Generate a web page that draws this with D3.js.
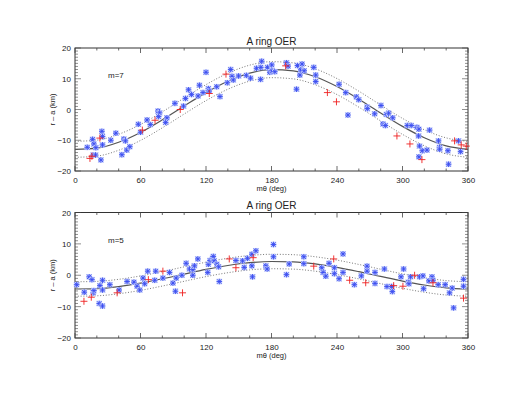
<!DOCTYPE html>
<html>
<head>
<meta charset="utf-8">
<script src="https://cdn.jsdelivr.net/npm/d3@7"></script>
<style>
  body { margin: 0; background: #fff; }
  text { font-family: "Liberation Sans", Arial, sans-serif; fill: #222; }
</style>
</head>
<body>
<script>
// x ticks (m theta, deg) and y ticks (r - a, km)
var xTicks = [0, 60, 120, 180, 240, 300, 360];
var yTicks = [-20, -10, 0, 10, 20];
var modelDeg = [0, 20, 40, 60, 80, 100, 120, 140, 160, 180, 200, 220, 240, 260, 280, 300, 320, 340, 360];

// m=7 panel
var topModel = [-12.95, -12.56, -10.65, -7.46, -3.36, 1.13, 5.49, 9.19, 11.82, 12.95, 12.56, 10.65, 7.46, 3.36, -1.13, -5.49, -9.19, -11.82, -12.95];
var topBand = 2.6;
var topBlue = [[11.2,-12.3],[16.1,-9.7],[17.3,-11.2],[16.7,-14.8],[18.8,-14.8],[19.1,-12.4],[23.7,-16.4],[24.6,-7.1],[25.2,-8.8],[25.2,-11.5],
  [32.8,-10],[37.4,-7.7],[42.9,-14.7],[44.7,-9.6],[46.2,-10.2],[47.4,-13.2],[50.2,-12.1],[58,-4.8],[60,-7.4],[66,-3.4],[69,-4.9],
  [76,-0.5],[77.5,-1.1],[76.6,-2.3],[84.2,-2.7],[83,-4.2],[91.5,2],[99.4,1.1],[101.2,3.6],[104,6.4],[106.7,4.9],[112.8,4.4],[114,7.9],
  [117.3,5.5],[120,12.1],[122.2,6.8],[123,6],[129.8,7.4],[132.8,4.2],[139.5,8.7],[142.6,13],[143.8,10.8],[145,9.6],[149.8,10.9],
  [157,11.1],[160.8,10.2],[166.3,13.4],[170,9.8],[170.2,13.7],[171,15.7],[176.3,13.7],[178.4,12.1],[180.2,14.5],[180.5,12.6],[183,12.3],
  [193.7,15.2],[195.2,14.1],[203.8,14.3],[208,14.8],[206,11.2],[206.8,12.9],[209.9,12.6],[202.9,6.6],[218.7,13.7],[220.5,11.2],[220.5,9.1],
  [241.9,8.2],[248,5.5],[250,-1.8],[257.7,4.1],[259.9,3.2],[267.5,0.8],[267.8,0.3],[274.5,-1.4],[280.3,1.3],[285.2,-1.6],[287.3,-1.2],
  [282.1,-4.7],[284.3,-5.2],[291,-2.7],[304.4,-5.2],[308,-5.2],[313.2,-5.8],[314.7,-8.6],[315,-6.4],[324.8,-6.7],[315.6,-11.9],
  [318.1,-13.4],[322.4,-13.2],[315,-15.4],[333,-10.2],[333.9,-12.3],[334,-12.9],[341.6,-13.4],[342.2,-17.8],[351.3,-10.2],[353.2,-13.7]];
var topRed = [[13.7,-15.9],[15.5,-15.2],[22.8,-9.3],[61.7,-6.7],[73.3,-3.5],[96.4,0],[123,5.2],[138.3,11.5],[193,14.2],
  [231.2,5.5],[239.5,2.5],[294.9,-8.6],[306.8,-11.2],[317.8,-16.3],[347.7,-10.2],[353.8,-11.5],[358.4,-11.9]];

// m=5 panel
var botModel = [-4.38, -4.25, -3.6, -2.52, -1.14, 0.38, 1.86, 3.11, 4.0, 4.38, 4.25, 3.6, 2.52, 1.14, -0.38, -1.86, -3.11, -4.0, -4.38];
var botBand = 2.3;
var botBlue = [[1.5,-3.0],[8.5,-5.4],[13,-0.5],[15.5,-1.4],[16.7,-5.6],[17.3,-4.9],[22.8,-3.3],[22.2,-9],[25.2,-9.8],[25.2,-4.7],[25.2,-1.6],
  [31.9,-3.0],[40.4,-4.7],[47.7,-2],[54,-2.2],[56.8,-3.5],[59.3,-4.7],[62.3,-0.9],[63.8,-2.7],[66.6,1.3],[73.9,1.3],[73,-1.6],[80.5,-0.9],
  [86.6,0.9],[89.7,-2.5],[92,-5.1],[92.7,-0.9],[97.9,0],[101.8,3.8],[104.9,2],[107.9,1.8],[107.9,0],[109.4,3],[112.5,5.2],[121.6,0.9],
  [122.2,3.5],[123.7,4.7],[126,5.4],[126.7,6],[127.5,4.6],[130,3.5],[131.6,2.7],[132.2,-2],[147.4,4.7],[153.5,4.6],[155,2.5],[158,5.4],
  [162,6.7],[162,3],[162.6,-0.5],[165.7,7.8],[174.8,3],[176,2],[181.8,9.8],[181.8,5.9],
  [193.7,0.2],[196.2,3.6],[209.6,5.9],[209.6,3.7],[226,2.4],[227.3,0.9],[229.7,-0.3],[232.7,3.8],[237.6,2.4],[237.6,0.5],[241.9,-1.1],
  [245.5,6.8],[245.5,0.9],[255.9,-3.0],[262.3,-0.2],[267.5,2.9],[267.5,1.3],[274.8,0.9],[274.8,-2.6],[283.4,2],[285.8,-3.6],[290,-3.6],
  [290.7,-5.2],[298.6,-0.5],[301,2],[305.3,-2.2],[305.9,-2.7],[307.4,-0.5],[315.7,-0.5],[318.7,-0.2],[319.3,-4.3],[324.2,-1.8],[327,-0.5],
  [327.9,-1.6],[332.7,-3.0],[339.1,-3.0],[343.1,-5.6],[345.5,-4.1],[346.8,-10.4],[355.9,-1.3],[355.9,-3.5]];
var botRed = [[8.2,-8.3],[14.9,-7],[38.6,-5.6],[67.2,-1.4],[80.5,1.3],[98.5,-5.6],[141.3,5.2],[147.4,2.4],[163.2,5.6],
  [218.7,2.9],[237,5.2],[251.6,-1.6],[266.3,-2.4],[291.9,-3.3],[300.4,-3.5],[311.1,0],[327.9,-2.4],[355.9,-7.3]];

var width = 512;
var height = 393;

var svg = d3.select("body")
            .append("svg")
            .attr("width", width)
            .attr("height", height);

var xScale = d3.scaleLinear()
               .domain([0, 360])
               .range([75, 468]);

function panel(top, bottom, label, model, band, blue, red, titleY) {
  var yScale = d3.scaleLinear()
                 .domain([-20, 20])
                 .range([bottom, top]);

  var g = svg.append("g");

  // frame
  g.append("rect")
    .attr("x", xScale(0))
    .attr("y", top)
    .attr("width", xScale(360) - xScale(0))
    .attr("height", bottom - top)
    .attr("fill", "none")
    .attr("stroke", "#333")
    .attr("stroke-width", 1);

  // axes: labels from d3 axes, ticks drawn on all four sides
  var xMinor = d3.range(0, 361, 20);
  var yMinor = d3.range(-20, 21, 1);
  var xb = d3.axisBottom(xScale).tickValues(xTicks).tickSize(0).tickPadding(6).tickFormat(d3.format("d"));
  var xAxisG = g.append("g").attr("transform", "translate(0," + bottom + ")").call(xb);
  xAxisG.select(".domain").remove();
  xAxisG.selectAll("text").attr("font-size", 8).attr("fill", "#222");

  var yl = d3.axisLeft(yScale).tickValues(yTicks).tickSize(0).tickPadding(4);
  var yAxisG = g.append("g").attr("transform", "translate(" + xScale(0) + ",0)").call(yl);
  yAxisG.select(".domain").remove();
  yAxisG.selectAll("text").attr("font-size", 8).attr("fill", "#222");

  var tickCol = "#444";
  g.selectAll(".xt").data(xMinor).enter().append("line")
    .attr("x1", function(d){ return xScale(d); })
    .attr("x2", function(d){ return xScale(d); })
    .attr("y1", bottom)
    .attr("y2", function(d){ return bottom - (d % 60 === 0 ? 5 : 2.5); })
    .attr("stroke", tickCol).attr("stroke-width", 0.8);
  g.selectAll(".xtt").data(xMinor).enter().append("line")
    .attr("x1", function(d){ return xScale(d); })
    .attr("x2", function(d){ return xScale(d); })
    .attr("y1", top)
    .attr("y2", function(d){ return top + (d % 60 === 0 ? 5 : 2.5); })
    .attr("stroke", tickCol).attr("stroke-width", 0.8);
  g.selectAll(".yt").data(yMinor).enter().append("line")
    .attr("x1", xScale(0))
    .attr("x2", function(d){ return xScale(0) + (d % 10 === 0 ? 6 : 3); })
    .attr("y1", function(d){ return yScale(d); })
    .attr("y2", function(d){ return yScale(d); })
    .attr("stroke", tickCol).attr("stroke-width", 0.6);
  g.selectAll(".ytr").data(yMinor).enter().append("line")
    .attr("x1", xScale(360))
    .attr("x2", function(d){ return xScale(360) - (d % 10 === 0 ? 6 : 3); })
    .attr("y1", function(d){ return yScale(d); })
    .attr("y2", function(d){ return yScale(d); })
    .attr("stroke", tickCol).attr("stroke-width", 0.6);

  // model curve and +/- band
  var line = d3.line()
               .x(function(d, i){ return xScale(modelDeg[i]); })
               .curve(d3.curveMonotoneX);
  g.append("path")
    .attr("d", line.y(function(d){ return yScale(d + band); })(model))
    .attr("fill", "none").attr("stroke", "#777").attr("stroke-width", 1)
    .attr("stroke-dasharray", "1,1.8");
  g.append("path")
    .attr("d", line.y(function(d){ return yScale(d - band); })(model))
    .attr("fill", "none").attr("stroke", "#777").attr("stroke-width", 1)
    .attr("stroke-dasharray", "1,1.8");
  g.append("path")
    .attr("d", line.y(function(d){ return yScale(d); })(model))
    .attr("fill", "none").attr("stroke", "#555").attr("stroke-width", 1.2);

  // blue asterisks
  var stars = g.selectAll(".star").data(blue).enter().append("g")
    .attr("transform", function(d){ return "translate(" + xScale(d[0]) + "," + yScale(d[1]) + ")"; });
  stars.append("rect")
    .attr("x", -2.8).attr("y", -2.8).attr("width", 5.6).attr("height", 5.6)
    .attr("fill", "#c3cdfb");
  stars.append("path")
    .attr("d", "M-2.8,0H2.8M0,-2.8V2.8M-2.2,-2.2L2.2,2.2M-2.2,2.2L2.2,-2.2")
    .attr("stroke", "#3a4cf0").attr("stroke-width", 0.9).attr("fill", "none");

  // red plus signs
  g.selectAll(".plus").data(red).enter().append("path")
    .attr("transform", function(d){ return "translate(" + xScale(d[0]) + "," + yScale(d[1]) + ")"; })
    .attr("d", "M-3.5,0H3.5M0,-3.5V3.5")
    .attr("stroke", "#ee2020").attr("stroke-width", 0.9).attr("fill", "none");

  // texts
  g.append("text")
    .attr("x", 108).attr("y", yScale(10.2))
    .attr("font-size", 8)
    .text(label);
  g.append("text")
    .attr("x", (xScale(0) + xScale(360)) / 2)
    .attr("y", titleY)
    .attr("text-anchor", "middle")
    .attr("font-size", 10)
    .text("A ring OER");
  g.append("text")
    .attr("x", (xScale(0) + xScale(360)) / 2)
    .attr("y", bottom + 20)
    .attr("text-anchor", "middle")
    .attr("font-size", 7.5)
    .text("mθ (deg)");
  g.append("text")
    .attr("transform", "translate(55," + ((top + bottom) / 2) + ") rotate(-90)")
    .attr("text-anchor", "middle")
    .attr("font-size", 7.5)
    .text("r – a (km)");
}

panel(48, 171, "m=7", topModel, topBand, topBlue, topRed, 45);
panel(212.5, 338, "m=5", botModel, botBand, botBlue, botRed, 209);
</script>
</body>
</html>
